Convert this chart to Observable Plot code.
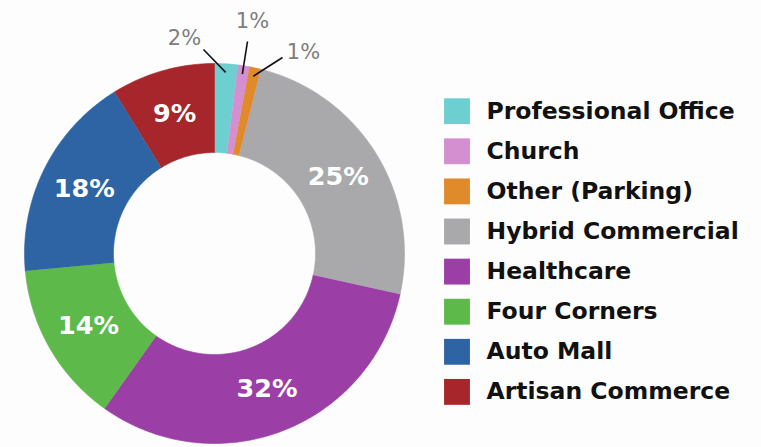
<!DOCTYPE html>
<html>
<head>
<meta charset="utf-8">
<script src="https://cdn.jsdelivr.net/npm/d3@7"></script>
<script src="https://cdn.jsdelivr.net/npm/@observablehq/plot@0.6"></script>
<style>
  html, body { margin: 0; padding: 0; background: #fdfdfd; }
  #chart svg { display: block; }
</style>
</head>
<body>
<div id="chart"></div>
<script>
// ---- data ----
const categories = ["Professional Office", "Church", "Other (Parking)", "Hybrid Commercial", "Healthcare", "Four Corners", "Auto Mall", "Artisan Commerce"];
const values = [2, 1, 1, 25, 32, 14, 18, 9];
const labels = ["2%", "1%", "1%", "25%", "32%", "14%", "18%", "9%"];
const colors = ["#6dcfd0", "#d48fd0", "#e08a2c", "#a9a9ac", "#9b3ea6", "#5cb94a", "#2e64a3", "#a6262c"];

// ---- layout (pixels) ----
const W = 761, H = 447;
const CX = 214, CY = 253, R = 190;   // donut centre & outer radius in px
const INNER = 101 / 190;             // inner radius as fraction of outer
const toX = px => (px - CX) / R;
const toY = py => (CY - py) / R;
// callouts for the tiny slices: [label px x, label px y, leader end px x, leader end px y]
const callouts = {0: [184, 38, 203, 49], 1: [252, 21, 247, 41], 2: [303, 52, 282, 57]};

// ---- geometry from the values ----
const total = d3.sum(values);
let acc = 0;
const slices = categories.map((c, i) => {
  const a0 = acc / total * 2 * Math.PI;
  acc += values[i];
  const a1 = acc / total * 2 * Math.PI;
  return {category: c, value: values[i], label: labels[i], a0, a1, mid: (a0 + a1) / 2, i};
});

const poly = [];
for (const s of slices) {
  const n = Math.max(4, Math.ceil((s.a1 - s.a0) / (Math.PI / 180)));
  for (let k = 0; k <= n; k++) {
    const a = s.a0 + (s.a1 - s.a0) * k / n;
    poly.push({category: s.category, x: Math.sin(a), y: Math.cos(a)});
  }
  for (let k = n; k >= 0; k--) {
    const a = s.a0 + (s.a1 - s.a0) * k / n;
    poly.push({category: s.category, x: INNER * Math.sin(a), y: INNER * Math.cos(a)});
  }
}

const big = slices.filter(s => !(s.i in callouts));
const small = slices.filter(s => s.i in callouts);
const rMid = (1 + INNER) / 2;

const legendTop = 110.7, legendStep = 40.1;
const legend = slices.map((s, k) => ({category: s.category, sx: toX(456.5), tx: toX(486), y: toY(legendTop + k * legendStep)}));

const chart = Plot.plot({
  width: W, height: H,
  margin: 0,
  style: {background: "transparent", overflow: "visible"},
  x: {domain: [-1, 1], range: [CX - R, CX + R], axis: null},
  y: {domain: [-1, 1], range: [CY + R, CY - R], axis: null},
  color: {domain: categories, range: colors},
  marks: [
    Plot.line(poly, {x: "x", y: "y", z: "category", fill: "category", stroke: "category", strokeWidth: 0.6, curve: "linear"}),
    Plot.text(big, {
      x: d => rMid * Math.sin(d.mid), y: d => rMid * Math.cos(d.mid), text: "label",
      fill: "white", fontSize: 25.5, fontWeight: 700, fontFamily: "DejaVu Sans"
    }),
    Plot.link(small, {
      x1: d => 0.955 * Math.sin(d.mid), y1: d => 0.955 * Math.cos(d.mid),
      x2: d => toX(callouts[d.i][2]), y2: d => toY(callouts[d.i][3]),
      stroke: "#111", strokeWidth: 1.6
    }),
    Plot.text(small, {
      x: d => toX(callouts[d.i][0]), y: d => toY(callouts[d.i][1]), text: "label",
      fill: "#7d7d7d", fontSize: 21, fontFamily: "DejaVu Sans"
    }),
    Plot.dot(legend, {x: "sx", y: "y", fill: "category", symbol: "square", r: 14.6}),
    Plot.text(legend, {
      x: "tx", y: "y", text: "category", textAnchor: "start",
      fill: "#111", fontSize: 23.5, fontWeight: 700, fontFamily: "DejaVu Sans"
    })
  ]
});
document.getElementById("chart").appendChild(chart);
</script>
</body>
</html>
